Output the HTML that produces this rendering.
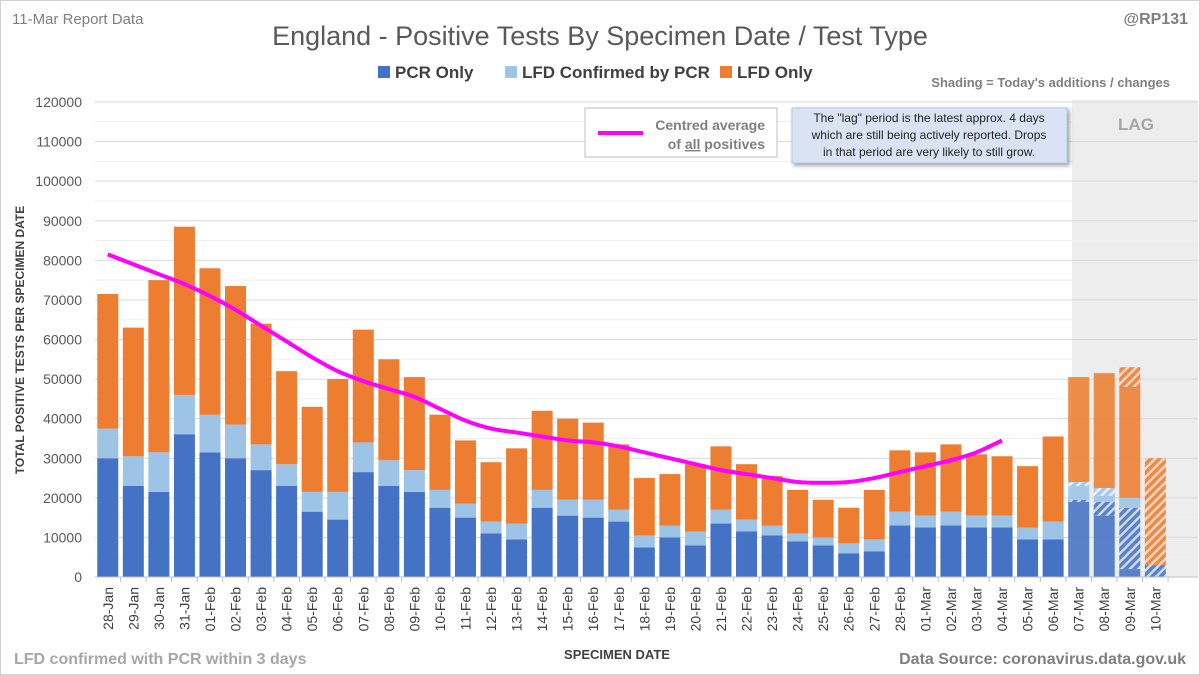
<!DOCTYPE html>
<html><head><meta charset="utf-8"><style>
body{margin:0;background:#fff;font-family:"Liberation Sans",sans-serif}
#wrap{position:relative;width:1200px;height:675px;overflow:hidden}
</style></head><body>
<div id="wrap">
<svg id="chart" width="1200" height="675">
<defs>
<pattern id="hp" patternUnits="userSpaceOnUse" width="6" height="6" patternTransform="rotate(45)"><rect width="6" height="6" fill="#4472c4"/><rect width="2.5" height="6" fill="#c9d6ee"/></pattern>
<pattern id="hc" patternUnits="userSpaceOnUse" width="6" height="6" patternTransform="rotate(45)"><rect width="6" height="6" fill="#9dc3e6"/><rect width="2.5" height="6" fill="#e6eff8"/></pattern>
<pattern id="hl" patternUnits="userSpaceOnUse" width="6" height="6" patternTransform="rotate(45)"><rect width="6" height="6" fill="#ed7d31"/><rect width="2.5" height="6" fill="#f8d2b8"/></pattern>
</defs>
<rect x="0.5" y="0.5" width="1199" height="674" fill="#fff" stroke="#d0d0d0"/>
<rect x="1072" y="100" width="126" height="477" fill="#ededed"/>
<g id="grid"></g>
<rect x="1110" y="112" width="52" height="24" fill="#ededed"/>
<text x="1136" y="130" font-size="17" font-weight="bold" fill="#a6a6a6" text-anchor="middle">LAG</text>
<g id="bars"></g>
<g id="axes"></g>
<g id="avg"></g>
<text x="12" y="24" font-size="15" fill="#7f7f7f">11-Mar Report Data</text>
<text x="1188" y="24" font-size="16" font-weight="bold" fill="#7f7f7f" text-anchor="end">@RP131</text>
<text x="600" y="45" font-size="27" fill="#595959" text-anchor="middle">England - Positive Tests By Specimen Date / Test Type</text>
<g font-size="17" font-weight="bold" fill="#404040">
<rect x="378" y="66" width="12" height="12" fill="#4472c4"/><text x="395" y="78">PCR Only</text>
<rect x="505" y="66" width="12" height="12" fill="#9dc3e6"/><text x="522" y="78">LFD Confirmed by PCR</text>
<rect x="720" y="66" width="12" height="12" fill="#ed7d31"/><text x="737" y="78">LFD Only</text>
</g>
<text x="1170" y="87" font-size="13" font-weight="bold" fill="#7f7f7f" text-anchor="end">Shading = Today's additions / changes</text>
<g>
<rect x="585" y="108" width="192" height="49" fill="#fff" stroke="#bfbfbf"/>
<line x1="598" y1="133" x2="643" y2="133" stroke="#ff00ff" stroke-width="4"/>
<text x="765" y="130" font-size="14" font-weight="bold" fill="#7f7f7f" text-anchor="end">Centred average</text>
<text x="765" y="149" font-size="14" font-weight="bold" fill="#7f7f7f" text-anchor="end">of <tspan text-decoration="underline">all</tspan> positives</text>
</g>
<g>
<rect x="792" y="108" width="275" height="55" fill="#dae3f3" stroke="#b4c7e7" filter="drop-shadow(2px 2px 2px #999)"/>
<text font-size="12" fill="#222" text-anchor="middle"><tspan x="929" y="122">The "lag" period is the latest approx. 4 days</tspan><tspan x="929" y="139">which are still being actively reported. Drops</tspan><tspan x="929" y="156">in that period are very likely to still grow.</tspan></text>
</g>
<text transform="translate(24,340) rotate(-90)" font-size="12" font-weight="bold" fill="#404040" text-anchor="middle">TOTAL POSITIVE TESTS PER SPECIMEN DATE</text>
<text x="617" y="659" font-size="13" font-weight="bold" fill="#404040" text-anchor="middle">SPECIMEN DATE</text>
<text x="14" y="664" font-size="16" font-weight="bold" fill="#a6a6a6">LFD confirmed with PCR within 3 days</text>
<text x="1186" y="664" font-size="16" font-weight="bold" fill="#7f7f7f" text-anchor="end">Data Source: coronavirus.data.gov.uk</text>
</svg>
</div>
<script>
const dates=["28-Jan","29-Jan","30-Jan","31-Jan","01-Feb","02-Feb","03-Feb","04-Feb","05-Feb","06-Feb","07-Feb","08-Feb","09-Feb","10-Feb","11-Feb","12-Feb","13-Feb","14-Feb","15-Feb","16-Feb","17-Feb","18-Feb","19-Feb","20-Feb","21-Feb","22-Feb","23-Feb","24-Feb","25-Feb","26-Feb","27-Feb","28-Feb","01-Mar","02-Mar","03-Mar","04-Mar","05-Mar","06-Mar","07-Mar","08-Mar","09-Mar","10-Mar"];
const pcr=[30000,23000,21500,36000,31500,30000,27000,23000,16500,14500,26500,23000,21500,17500,15000,11000,9500,17500,15500,15000,14000,7500,10000,8000,13500,11500,10500,9000,8000,6000,6500,13000,12500,13000,12500,12500,9500,9500,19500,19000,17500,3000];
const lfdc=[7500,7500,10000,10000,9500,8500,6500,5500,5000,7000,7500,6500,5500,4500,3500,3000,4000,4500,4000,4500,3000,3000,3000,3500,3500,3000,2500,2000,2000,2500,3000,3500,3000,3500,3000,3000,3000,4500,4500,3500,2500,0];
const lfd=[34000,32500,43500,42500,37000,35000,30500,23500,21500,28500,28500,25500,23500,19000,16000,15000,19000,20000,20500,19500,16500,14500,13000,17000,16000,14000,12500,11000,9500,9000,12500,15500,16000,17000,15500,15000,15500,21500,26500,29000,33000,27000];
const pcrNew=[0,0,0,0,0,0,0,0,0,0,0,0,0,0,0,0,0,0,0,0,0,0,0,0,0,0,0,0,0,0,0,0,0,0,0,0,0,0,500,3500,15500,3000];
const lfdcNew=[0,0,0,0,0,0,0,0,0,0,0,0,0,0,0,0,0,0,0,0,0,0,0,0,0,0,0,0,0,0,0,0,0,0,0,0,0,0,1000,2000,0,0];
const lfdNew=[0,0,0,0,0,0,0,0,0,0,0,0,0,0,0,0,0,0,0,0,0,0,0,0,0,0,0,0,0,0,0,0,0,0,0,0,0,0,0,0,5000,27000];
const avgVals=[81500,79000,76500,74000,71000,67500,63500,59500,55500,52000,49500,47500,45500,42500,39500,37500,36500,35500,34500,34000,33000,31500,30000,28500,27000,26000,25000,24000,23800,24000,25000,26500,28000,29500,31500,34500];
const yTicks=[0,10000,20000,30000,40000,50000,60000,70000,80000,90000,100000,110000,120000];
const lagStart=38;
const NS="http://www.w3.org/2000/svg";
const y0=577,yTop=102,yMax=120000,xLeft=95,step=25.55,bw=21;
const Y=v=>y0-v/yMax*(y0-yTop);
const X=i=>xLeft+step*(i+0.5);
function mk(tag,attrs,parent){const e=document.createElementNS(NS,tag);for(const k in attrs)e.setAttribute(k,attrs[k]);parent.appendChild(e);return e;}
const grid=document.getElementById('grid'),bars=document.getElementById('bars'),axes=document.getElementById('axes'),avg=document.getElementById('avg');
yTicks.forEach(t=>{
 if(t>0){const l=mk('line',{x1:xLeft,x2:1198,y1:Y(t),y2:Y(t),stroke:'#d9d9d9'},grid);
 
 
 const h=mk('line',{x1:xLeft,x2:1198,y1:Y(t-5000),y2:Y(t-5000),stroke:'#efefef'},grid);
 
 }
 const tx=mk('text',{x:82,y:Y(t)+5,'font-size':14,fill:'#595959','text-anchor':'end'},axes);tx.textContent=t;
 
 
});
function seg(i,lo,val,newv,col,pat,name){
 if(val<=0)return;
 const x=X(i)-bw/2,op=i>=lagStart?0.88:1;
 const old=val-newv;
 if(old>0){const r=mk('rect',{x:x,y:Y(lo+old),width:bw,height:Y(lo)-Y(lo+old),fill:col,opacity:op},bars);
 
 }
 if(newv>0){const r=mk('rect',{x:x,y:Y(lo+val),width:bw,height:Y(lo+old)-Y(lo+val),fill:'url(#'+pat+')',opacity:op},bars);
 
 }
}
dates.forEach((d,i)=>{
 seg(i,0,pcr[i],pcrNew[i],'#4472c4','hp','bar-pcr');
 seg(i,pcr[i],lfdc[i],lfdcNew[i],'#9dc3e6','hc','bar-lfd-confirmed');
 seg(i,pcr[i]+lfdc[i],lfd[i],lfdNew[i],'#ed7d31','hl','bar-lfd-only');
 const tk=mk('line',{x1:xLeft+step*(i+1),x2:xLeft+step*(i+1),y1:y0,y2:y0+5,stroke:'#bfbfbf'},axes);
 
 
 const tx=mk('text',{transform:`translate(${X(i)+5},587) rotate(-90)`,'font-size':14,fill:'#404040','text-anchor':'end'},axes);tx.textContent=d;
 
 
});
const ax=mk('line',{x1:xLeft,x2:1198,y1:y0,y2:y0,stroke:'#bfbfbf'},axes);


let pts=avgVals.map((v,i)=>[X(i),Y(v)]);
let dstr='M'+pts[0].join(',');
for(let i=1;i<pts.length;i++){const p0=pts[i-2]||pts[i-1],p1=pts[i-1],p2=pts[i],p3=pts[i+1]||p2;
 dstr+=` C${p1[0]+(p2[0]-p0[0])/6},${p1[1]+(p2[1]-p0[1])/6} ${p2[0]-(p3[0]-p1[0])/6},${p2[1]-(p3[1]-p1[1])/6} ${p2[0]},${p2[1]}`;}
const pl=mk('path',{d:dstr,fill:'none',stroke:'#ff00ff','stroke-width':4},avg);


</script>
</body></html>
